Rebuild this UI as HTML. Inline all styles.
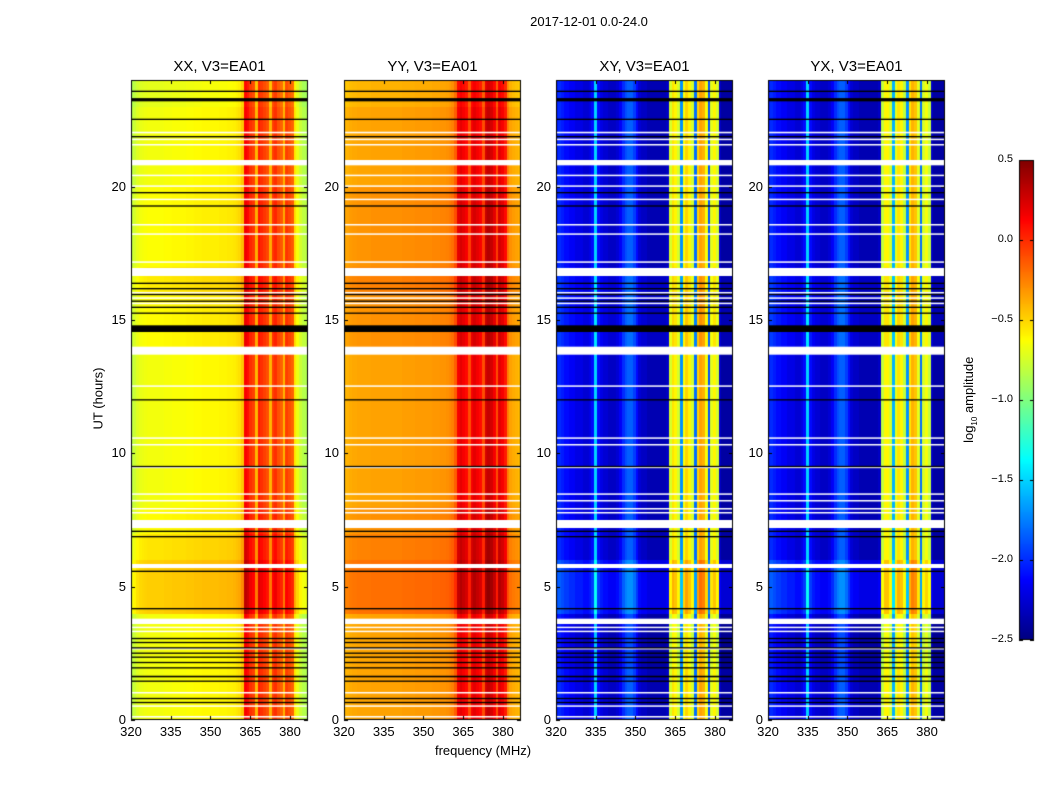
<!DOCTYPE html>
<html><head><meta charset="utf-8">
<style>
html,body{margin:0;padding:0;background:#fff;}
body{width:1050px;height:800px;position:relative;overflow:hidden;font-family:"Liberation Sans",sans-serif;}
.t{position:absolute;color:#000;white-space:nowrap;}
canvas{position:absolute;left:0;top:0;}
</style></head>
<body>
<canvas id="c" width="1050" height="800"></canvas>
<div class="t" style="left:489px;top:14px;width:200px;text-align:center;font-size:13px;">2017-12-01 0.0-24.0</div>
<div class="t" style="left:383px;top:743px;width:200px;text-align:center;font-size:13px;">frequency (MHz)</div>
<div class="t" style="left:48px;top:391px;width:100px;text-align:center;font-size:13px;transform:rotate(-90deg);">UT (hours)</div>
<div class="t" style="left:920px;top:391px;width:100px;text-align:center;font-size:13px;transform:rotate(-90deg);">log<sub style="font-size:8px">10</sub> amplitude</div>
<div id="labels"></div>
<script>
// ---- data ----
const panelTitles = ["XX, V3=EA01","YY, V3=EA01","XY, V3=EA01","YX, V3=EA01"];
const xTicks = [320,335,350,365,380];
const yTicks = [0,5,10,15,20];
const cbTicks = [0.5,0.0,-0.5,-1.0,-1.5,-2.0,-2.5];
// spectra: 64 bins from 320 to 386.8 MHz, log10 amplitude
const specXX = [-0.78,-0.72,-0.66,-0.63,-0.62,-0.61,-0.6,-0.6,-0.6,-0.6,
 -0.6,-0.6,-0.59,-0.59,-0.59,-0.58,-0.58,-0.58,-0.58,-0.58,
 -0.57,-0.57,-0.57,-0.56,-0.56,-0.56,-0.55,-0.55,-0.55,-0.55,
 -0.55,-0.55,-0.54,-0.54,-0.54,-0.53,-0.53,-0.52,-0.5,-0.48,
 -0.4,0.2,0.15,0.05,0.0,-0.35,0.1,0.05,0.0,-0.05,
 -0.35,0.0,0.05,-0.05,-0.1,-0.35,0.0,-0.05,-0.1,-0.5,
 -0.62,-0.72,-0.78,-0.8];
const specYY = [-0.42,-0.4,-0.38,-0.37,-0.37,-0.36,-0.36,-0.36,-0.36,-0.36,
 -0.35,-0.35,-0.35,-0.35,-0.35,-0.35,-0.35,-0.35,-0.35,-0.35,
 -0.35,-0.34,-0.34,-0.34,-0.34,-0.34,-0.33,-0.33,-0.33,-0.33,
 -0.33,-0.33,-0.32,-0.32,-0.32,-0.31,-0.31,-0.3,-0.28,-0.25,
 -0.15,0.15,0.2,0.15,0.1,-0.1,0.15,0.2,0.15,0.1,
 -0.1,0.25,0.3,0.25,0.15,-0.1,0.2,0.15,0.05,-0.25,
 -0.35,-0.38,-0.4,-0.42];
const specXY = [-2.05,-2.0,-2.05,-2.1,-2.1,-2.15,-2.15,-2.2,-2.2,-2.2,
 -2.25,-2.25,-2.2,-2.1,-1.5,-2.1,-2.2,-2.25,-2.25,-2.3,
 -2.3,-2.3,-2.25,-2.15,-2.0,-1.9,-1.85,-1.85,-1.95,-2.1,
 -2.25,-2.3,-2.3,-2.35,-2.35,-2.35,-2.35,-2.35,-2.35,-2.35,
 -2.3,-0.75,-0.55,-0.6,-0.75,-1.7,-0.65,-0.5,-0.6,-0.75,
 -1.8,-0.5,-0.35,-0.4,-0.65,-1.9,-0.7,-0.6,-0.75,-2.3,
 -2.4,-2.4,-2.4,-2.4];
const specYX = [-2.05,-2.0,-2.05,-2.1,-2.1,-2.15,-2.15,-2.2,-2.2,-2.2,
 -2.25,-2.25,-2.2,-2.1,-1.5,-2.1,-2.2,-2.25,-2.25,-2.3,
 -2.3,-2.3,-2.25,-2.15,-2.0,-1.9,-1.85,-1.85,-1.95,-2.1,
 -2.25,-2.3,-2.3,-2.35,-2.35,-2.35,-2.35,-2.35,-2.35,-2.35,
 -2.3,-0.8,-0.6,-0.6,-0.75,-1.6,-0.7,-0.55,-0.6,-0.8,
 -1.7,-0.55,-0.4,-0.45,-0.7,-1.8,-0.75,-0.65,-0.8,-2.3,
 -2.4,-2.4,-2.4,-2.4];
// per-hour offsets (0..23 h)
const hourOffXX = [-0.06,-0.06,-0.06,-0.06,0.12,0.12,0.05,-0.02,-0.06,-0.06,-0.06,-0.06,-0.06,-0.06,-0.02,-0.02,0.03,-0.03,-0.03,-0.03,-0.06,-0.06,-0.06,-0.1];
const hourOffYY = [0.0,0.0,0.0,0.0,0.15,0.15,0.1,0.05,0.0,0.0,0.0,0.0,0.0,0.0,0.05,0.05,0.1,0.05,0.05,0.05,0.0,0.0,0.0,-0.05];
const hourOffXY = [0.0,0.0,-0.05,-0.05,0.15,0.15,0.0,0.0,0.0,0.0,0.0,0.0,0.0,0.0,0.05,0.05,0.05,0.0,0.0,0.0,0.0,0.0,0.0,0.0];
// flagged intervals (hours)
const whiteGaps = [[20.8,21.0],[16.65,16.95],[13.7,14.0],[7.2,7.5],[5.7,5.85],[3.6,3.8],[22.0,22.06],[21.75,21.8],[21.55,21.6],[20.4,20.45],[20.0,20.05],[19.5,19.55],[18.55,18.6],[18.2,18.25],[17.15,17.2],[16.0,16.05],[15.8,15.85],[15.6,15.65],[12.5,12.55],[10.55,10.6],[10.3,10.35],[9.45,9.5],[8.45,8.5],[8.2,8.25],[7.9,7.95],[7.75,7.8],[3.45,3.5],[3.3,3.35],[2.65,2.7],[1.0,1.05],[0.5,0.55],[0.1,0.15]];
const blackLines = [[14.55,14.8],[23.2,23.32],[23.55,23.6],[22.5,22.55],[21.85,21.9],[19.75,19.8],[19.25,19.3],[16.35,16.4],[16.15,16.2],[15.95,15.98],[15.7,15.73],[15.45,15.5],[15.25,15.28],[12.0,12.03],[9.5,9.53],[7.05,7.1],[6.85,6.9],[5.55,5.6],[4.15,4.2],[3.05,3.08],[2.9,2.93],[2.7,2.73],[2.5,2.53],[2.35,2.38],[2.15,2.18],[1.95,1.98],[1.6,1.66],[1.45,1.48],[0.8,0.83],[0.65,0.68]];

// ---- layout ----
const panelX = [131,344,556,768];
const panelW = 177, plotTop = 80, plotBottom = 720;
const fmin = 320, fmax = 386.8, hmin = 0, hmax = 24;
const cbX = 1019, cbW = 15, cbTop = 160, cbBot = 640, vmin = -2.5, vmax = 0.5;
function xs(p,f){return panelX[p] + (f-fmin)/(fmax-fmin)*panelW;}
function ys(h){return plotBottom - (h-hmin)/(hmax-hmin)*(plotBottom-plotTop);}
function cbY(v){return cbBot - (v-vmin)/(vmax-vmin)*(cbBot-cbTop);}
function jet(v){
  let t=(v-vmin)/(vmax-vmin); t=Math.max(0,Math.min(1,t));
  const c=x=>Math.max(0,Math.min(1,x));
  const r=c(1.5-Math.abs(4*t-3)), g=c(1.5-Math.abs(4*t-2)), b=c(1.5-Math.abs(4*t-1));
  return `rgb(${Math.round(r*255)},${Math.round(g*255)},${Math.round(b*255)})`;
}
const ctx = document.getElementById('c').getContext('2d');
const specs=[specXX,specYY,specXY,specYX];
const offs=[hourOffXX,hourOffYY,hourOffXY,hourOffXY];
const nb = specXX.length, rowsPerHour = 10;
for(let p=0;p<4;p++){
  const spec=specs[p], off=offs[p];
  for(let r=0;r<24*rowsPerHour;r++){
    const h0=r/rowsPerHour, h1=(r+1)/rowsPerHour;
    const o=off[Math.floor(h0)];
    for(let i=0;i<nb;i++){
      const f0=fmin+i*(fmax-fmin)/nb, f1=fmin+(i+1)*(fmax-fmin)/nb;
      ctx.fillStyle=jet(spec[i]+o);
      const x0=xs(p,f0), x1=xs(p,f1), y0=ys(h1), y1=ys(h0);
      ctx.fillRect(Math.floor(x0),Math.floor(y0),Math.ceil(x1)-Math.floor(x0),Math.ceil(y1)-Math.floor(y0));
    }
  }
  ctx.fillStyle='#fff';
  whiteGaps.forEach(g=>{const y0=ys(g[1]),y1=ys(g[0]);ctx.fillRect(panelX[p],y0,panelW,Math.max(1.5,y1-y0));});
  ctx.fillStyle='#000';
  blackLines.forEach(g=>{const y0=ys(g[1]),y1=ys(g[0]);ctx.fillRect(panelX[p],y0,panelW,Math.max(1.3,y1-y0));});
  ctx.strokeStyle='#000';ctx.lineWidth=1;
  ctx.strokeRect(panelX[p]+0.5,plotTop+0.5,panelW-1,plotBottom-plotTop-1);
  ctx.beginPath();
  xTicks.forEach(v=>{const x=Math.round(xs(p,v))+0.5;ctx.moveTo(x,plotBottom);ctx.lineTo(x,plotBottom-4);ctx.moveTo(x,plotTop);ctx.lineTo(x,plotTop+4);});
  yTicks.forEach(v=>{const y=Math.round(ys(v))+0.5;ctx.moveTo(panelX[p],y);ctx.lineTo(panelX[p]+4,y);ctx.moveTo(panelX[p]+panelW,y);ctx.lineTo(panelX[p]+panelW-4,y);});
  ctx.stroke();
}
// colorbar
for(let y=cbTop;y<cbBot;y++){
  const v=vmin+(cbBot-y-0.5)/(cbBot-cbTop)*(vmax-vmin);
  ctx.fillStyle=jet(v);ctx.fillRect(cbX,y,cbW,1);
}
ctx.strokeStyle='#000';ctx.strokeRect(cbX+0.5,cbTop+0.5,cbW-1,cbBot-cbTop-1);
ctx.beginPath();
cbTicks.forEach(v=>{const y=Math.round(cbY(v))+0.5;ctx.moveTo(cbX,y);ctx.lineTo(cbX+4,y);ctx.moveTo(cbX+cbW,y);ctx.lineTo(cbX+cbW-4,y);});
ctx.stroke();

// labels
const L=document.getElementById('labels');
function lab(txt,left,topp,w,align,size,name){
  const d=document.createElement('div');
  d.className='t';
  
  
  d.style.left=left+'px';d.style.top=topp+'px';d.style.width=w+'px';d.style.textAlign=align;d.style.fontSize=size+'px';
  d.textContent=txt;L.appendChild(d);
}
for(let p=0;p<4;p++){
  lab(panelTitles[p],panelX[p]-20,58,panelW+40,'center',15,'panel-title');
  xTicks.forEach(v=>lab(String(v),xs(p,v)-20,724,40,'center',13,'x-tick-label'));
  yTicks.forEach(v=>lab(String(v),panelX[p]-45,ys(v)-8,40,'right',13,'y-tick-label'));
}
cbTicks.forEach(v=>lab(v.toFixed(1).replace('-','\u2212'),cbX-46,cbY(v)-7,40,'right',11,'colorbar-tick-label'));
</script>
</body></html>
